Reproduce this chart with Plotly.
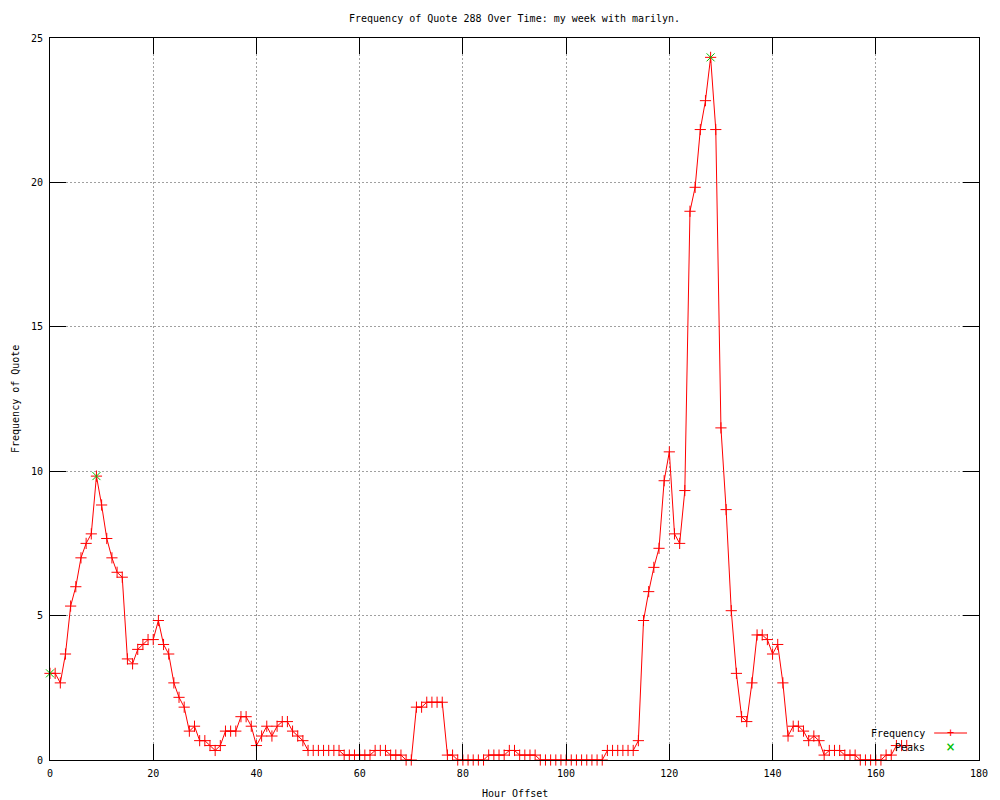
import plotly.graph_objects as go

# ---------------- data ----------------
hours = list(range(0, 167))
freq = [
    3.0, 3.0, 2.67, 3.67, 5.33, 6.0, 7.0, 7.5, 7.83, 9.83,          # 0-9
    8.83, 7.67, 7.0, 6.5, 6.33, 3.5, 3.33, 3.83, 4.0, 4.17,         # 10-19
    4.17, 4.83, 4.0, 3.67, 2.67, 2.17, 1.83, 1.0, 1.17, 0.67,       # 20-29
    0.67, 0.5, 0.33, 0.5, 1.0, 1.0, 1.0, 1.5, 1.5, 1.17,            # 30-39
    0.5, 0.83, 1.17, 0.83, 1.17, 1.33, 1.33, 1.0, 0.83, 0.67,       # 40-49
    0.33, 0.33, 0.33, 0.33, 0.33, 0.33, 0.33, 0.17, 0.17, 0.17,     # 50-59
    0.17, 0.17, 0.17, 0.33, 0.33, 0.33, 0.17, 0.17, 0.17, 0.0,      # 60-69
    0.0, 1.83, 1.83, 2.0, 2.0, 2.0, 2.0, 0.17, 0.17, 0.0,           # 70-79
    0.0, 0.0, 0.0, 0.0, 0.0, 0.17, 0.17, 0.17, 0.17, 0.33,          # 80-89
    0.33, 0.17, 0.17, 0.17, 0.17, 0.0, 0.0, 0.0, 0.0, 0.0,          # 90-99
    0.0, 0.0, 0.0, 0.0, 0.0, 0.0, 0.0, 0.0, 0.33, 0.33,             # 100-109
    0.33, 0.33, 0.33, 0.33, 0.67, 4.83, 5.83, 6.67, 7.33, 9.67,     # 110-119
    10.67, 7.83, 7.5, 9.33, 19.0, 19.83, 21.83, 22.83, 24.33, 21.83,  # 120-129
    11.5, 8.67, 5.17, 3.0, 1.5, 1.33, 2.67, 4.33, 4.33, 4.17,       # 130-139
    3.67, 4.0, 2.67, 0.83, 1.17, 1.17, 1.0, 0.67, 0.83, 0.67,       # 140-149
    0.17, 0.33, 0.33, 0.33, 0.17, 0.17, 0.17, 0.0, 0.0, 0.0,        # 150-159
    0.0, 0.0, 0.17, 0.17, 0.5, 0.5, 0.5,                            # 160-166
]
peak_hours = [0, 9, 128]
peak_values = [freq[h] for h in peak_hours]

x_ticks = [0, 20, 40, 60, 80, 100, 120, 140, 160, 180]
y_ticks = [0, 5, 10, 15, 20, 25]

title_text = "Frequency of Quote 288 Over Time: my week with marilyn."
x_label = "Hour Offset"
y_label = "Frequency of Quote"
series_names = ["Frequency", "Peaks"]

FONT = "DejaVu Sans Mono"
RED = "#ff0000"
GREEN = "#00c000"

fig = go.Figure()
fig.add_trace(go.Scatter(
    x=hours, y=freq, mode="lines+markers", name=series_names[0],
    line=dict(color=RED, width=1),
    marker=dict(symbol="cross-thin", size=8, line=dict(color=RED, width=1), color=RED),
    showlegend=False, cliponaxis=False,
))
fig.add_trace(go.Scatter(
    x=peak_hours, y=peak_values, mode="markers", name=series_names[1],
    marker=dict(symbol="x-thin", size=8, line=dict(color=GREEN, width=1), color=GREEN),
    showlegend=False, cliponaxis=False,
))

axis_common = dict(
    showline=True, linecolor="black", linewidth=1, mirror="ticks",
    ticks="inside", ticklen=16, tickcolor="black", tickwidth=1,
    showgrid=True, gridcolor="#a0a0a0", griddash="2px,2px", gridwidth=1,
    zeroline=False, tickfont=dict(family=FONT, size=10, color="black"),
)
fig.update_xaxes(range=[0, 180], tickvals=x_ticks, ticklabelstandoff=4, **axis_common)
fig.update_yaxes(range=[0, 25], tickvals=y_ticks, ticklabelstandoff=4, **axis_common)

plot_w = 1000 - 50 - 18
plot_h = 800 - 38 - 40

annotations = [
    dict(text=title_text, xref="paper", yref="paper", x=0.5, y=1, yshift=20,
         showarrow=False, font=dict(family=FONT, size=10, color="black"),
         xanchor="center", yanchor="middle"),
    dict(text=x_label, xref="paper", yref="paper", x=0.5, y=0, yshift=-33,
         showarrow=False, font=dict(family=FONT, size=10, color="black"),
         xanchor="center", yanchor="middle"),
    dict(text=y_label, xref="paper", yref="paper", x=0, y=0.5, xshift=-35,
         textangle=-90, showarrow=False, font=dict(family=FONT, size=10, color="black"),
         xanchor="center", yanchor="middle"),
    # legend (gnuplot style: text on the left, sample on the right)
    dict(text=series_names[0], xref="paper", yref="paper", x=1, y=0, xshift=-52, yshift=27,
         showarrow=False, font=dict(family=FONT, size=10, color="black"),
         xanchor="right", yanchor="middle"),
    dict(text=series_names[1], xref="paper", yref="paper", x=1, y=0, xshift=-52, yshift=13,
         showarrow=False, font=dict(family=FONT, size=10, color="black"),
         xanchor="right", yanchor="middle"),
    dict(text="+", xref="paper", yref="paper", x=1 - 28.5 / plot_w, y=27 / plot_h,
         showarrow=False, font=dict(family=FONT, size=12, color=RED),
         xanchor="center", yanchor="middle"),
    dict(text="×", xref="paper", yref="paper", x=1 - 28.5 / plot_w, y=13 / plot_h,
         showarrow=False, font=dict(family=FONT, size=15, color=GREEN),
         xanchor="center", yanchor="middle"),
]
fig.update_layout(annotations=annotations)

fig.add_shape(type="line", xref="paper", yref="paper",
              x0=1 - 45 / plot_w, x1=1 - 12 / plot_w, y0=27 / plot_h, y1=27 / plot_h,
              line=dict(color=RED, width=1))

fig.update_layout(
    width=1000, height=800,
    margin=dict(l=50, r=18, t=38, b=40, pad=0),
    plot_bgcolor="white", paper_bgcolor="white",
    showlegend=False,
    font=dict(family=FONT, size=10, color="black"),
)

fig.write_html("out.html", config={"displayModeBar": False},
               post_script="document.body.style.margin='0';")
